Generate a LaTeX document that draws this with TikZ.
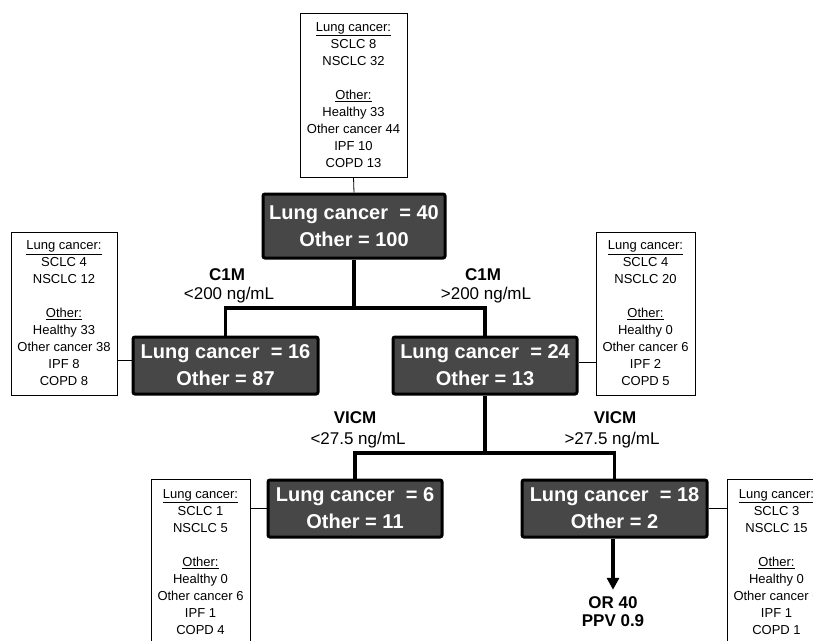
\documentclass[tikz,border=0pt]{standalone}
\usepackage{fontspec}
\setmainfont{Liberation Sans}
\usetikzlibrary{arrows.meta}
\definecolor{darkbox}{HTML}{474747}
\begin{document}
\begin{tikzpicture}[x=1pt,y=-1pt,
 dark/.style={draw=black, line width=3pt, fill=darkbox, rounded corners=2pt, text=white,
   font=\bfseries\fontsize{20}{27}\selectfont, align=center, inner sep=0pt, minimum height=57pt},
 info/.style={draw=black, line width=0.8pt, fill=white, font=\fontsize{13}{17}\selectfont,
   align=center, inner sep=0pt, minimum width=99pt, minimum height=164pt},
 tree/.style={line width=3.5pt},
 thinline/.style={line width=0.8pt},
 lbl/.style={font=\bfseries\fontsize{17}{20}\selectfont, align=center, inner sep=0pt},
 rng/.style={font=\fontsize{17}{20}\selectfont, inner sep=0pt}]
\useasboundingbox (0,0) rectangle (813,640);
\clip (0,0) rectangle (813,640);

% info boxes
\node[info, minimum width=107pt] (i0) at (353.5,95) {\underline{Lung cancer:}\\SCLC 8\\NSCLC 32\\[17pt]\underline{Other:}\\Healthy 33\\Other cancer 44\\IPF 10\\COPD 13};
\node[info, minimum width=106pt, minimum height=163pt] (iL) at (64,313.5) {\underline{Lung cancer:}\\SCLC 4\\NSCLC 12\\[17pt]\underline{Other:}\\Healthy 33\\Other cancer 38\\IPF 8\\COPD 8};
\node[info, minimum height=163pt] (iR) at (645.5,313.5) {\underline{Lung cancer:}\\SCLC 4\\NSCLC 20\\[17pt]\underline{Other:}\\Healthy 0\\Other cancer 6\\IPF 2\\COPD 5};
\node[info, minimum height=166pt] (iBL) at (200.5,562) {\underline{Lung cancer:}\\SCLC 1\\NSCLC 5\\[17pt]\underline{Other:}\\Healthy 0\\Other cancer 6\\IPF 1\\COPD 4};
\node[info, minimum height=166pt] (iBR) at (776.5,562) {\underline{Lung cancer:}\\SCLC 3\\NSCLC 15\\[17pt]\underline{Other:}\\Healthy 0\\Other cancer 6\\IPF 1\\COPD 1};

% dark boxes
\node[dark, minimum width=182pt, minimum height=64pt] (b1) at (354,226) {Lung cancer \ = 40\\Other = 100};
\node[dark, minimum width=185pt] (b2) at (225.5,365.5) {Lung cancer \ = 16\\Other = 87};
\node[dark, minimum width=184pt] (b3) at (485,365.5) {Lung cancer \ = 24\\Other = 13};
\node[dark, minimum width=174pt] (b4) at (355,508.5) {Lung cancer \ = 6\\Other = 11};
\node[dark, minimum width=185pt] (b5) at (614.5,508.5) {Lung cancer \ = 18\\Other = 2};

% labels
\node[lbl] (c1l) at (227,275) {C1M};
\node[rng] (r1l) at (229,295) {<200 ng/mL};
\node[lbl] (c1r) at (483,275) {C1M};
\node[rng] (r1r) at (486,295) {>200 ng/mL};
\node[lbl] (vl) at (355,418) {VICM};
\node[rng] (rvl) at (358,440) {<27.5 ng/mL};
\node[lbl] (vr) at (615,418) {VICM};
\node[rng] (rvr) at (612,440) {>27.5 ng/mL};
\node[lbl, font=\bfseries\fontsize{17}{18}\selectfont] (res) at (613,612) {OR 40\\PPV 0.9};

% connectors
\draw[thinline] (i0.south) -- (b1.north);
\draw[tree] (b1.south) -- (b1.south |- 0,308) -| (b2.north);
\draw[tree] (b1.south |- 0,308) -| (b3.north);
\draw[tree] (b3.south) -- (b3.south |- 0,453) -| (b4.north);
\draw[tree] (b3.south |- 0,453) -| (b5.north);
\draw[thinline] (iL.east |- 0,360) -- (b2.west |- 0,360);
\draw[thinline] (b3.east |- 0,362) -- (iR.west |- 0,362);
\draw[thinline] (iBL.east |- 0,508) -- (b4.west |- 0,508);
\draw[thinline] (b5.east |- 0,508) -- (iBR.west |- 0,508);
\draw[tree, -{Triangle[length=12pt,width=12pt]}] (b5.south -| res.north) -- ([yshift=7pt]res.north);
\end{tikzpicture}
\end{document}
